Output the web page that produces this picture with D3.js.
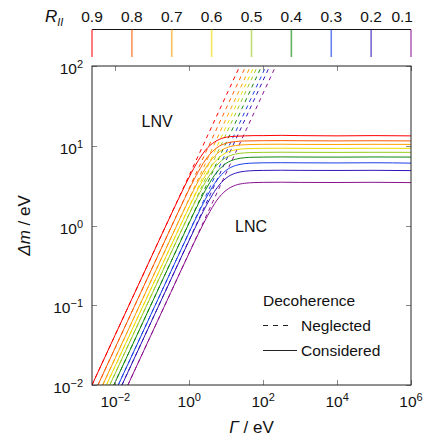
<!DOCTYPE html>
<html><head><meta charset="utf-8">
<script src="https://cdn.jsdelivr.net/npm/d3@7"></script>
<style>
body{margin:0;background:#fff}
text{font-family:"Liberation Sans",Arial,sans-serif;fill:#111}
</style>
</head><body>
<svg id="c" width="425" height="440"></svg>
<script>
// ---- data ----
const rLabels = ["0.9","0.8","0.7","0.6","0.5","0.4","0.3","0.2","0.1"];
const colors = ["#ff0000","#ff5a00","#ffa000","#eedd00","#99cc22","#118811","#1a3fe8","#3214b8","#8a1190"];
const xTickValues = [1e-2, 1e0, 1e2, 1e4, 1e6];
const xTickExp = ["−2","0","2","4","6"];
const yTickValues = [1e-2, 1e-1, 1e0, 1e1, 1e2];
const yTickExp = ["−2","−1","0","1","2"];

// Gamma grid (eV) for the "Considered" curves
const gammaGrid = [0.001, 0.1, 0.3162, 0.5623, 1, 1.778, 3.162, 5.623, 10, 17.78, 31.62, 56.23, 100, 316.2, 1000, 1e4, 1e5, 1e6];
// Delta m (eV), decoherence considered, one array per R_II
const dm09 = [0.00427, 0.427, 1.343, 2.36, 4.06, 6.58, 9.48, 11.6, 12.8, 13.15, 13.3, 13.4, 13.4, 13.5, 13.4, 13.3, 13.4, 13.3];
const dm08 = [0.00295, 0.295, 0.929, 1.643, 2.858, 4.77, 7.26, 9.46, 10.76, 11.28, 11.48, 11.53, 11.56, 11.6, 11.55, 11.5, 11.55, 11.5];
const dm07 = [0.00219, 0.219, 0.690, 1.222, 2.141, 3.64, 5.75, 7.93, 9.40, 10.06, 10.30, 10.38, 10.42, 10.45, 10.4, 10.38, 10.42, 10.4];
const dm06 = [0.00174, 0.174, 0.548, 0.972, 1.708, 2.93, 4.72, 6.71, 8.18, 8.89, 9.16, 9.25, 9.29, 9.32, 9.28, 9.26, 9.3, 9.27];
const dm05 = [0.00141, 0.141, 0.446, 0.791, 1.392, 2.40, 3.92, 5.72, 7.13, 7.86, 8.14, 8.23, 8.26, 8.3, 8.27, 8.25, 8.28, 8.26];
const dm04 = [0.001096, 0.1096, 0.3463, 0.614, 1.084, 1.881, 3.12, 4.68, 6.02, 6.77, 7.08, 7.18, 7.21, 7.24, 7.22, 7.2, 7.23, 7.21];
const dm03 = [0.000832, 0.0832, 0.2628, 0.4661, 0.8241, 1.437, 2.413, 3.71, 4.92, 5.65, 5.96, 6.07, 6.11, 6.13, 6.11, 6.09, 6.12, 6.05];
const dm02 = [0.000661, 0.0661, 0.2087, 0.3704, 0.6546, 1.1425, 1.920, 2.959, 3.937, 4.532, 4.786, 4.878, 4.909, 4.93, 4.91, 4.9, 4.92, 4.88];
const dm01 = [0.000457, 0.0457, 0.1444, 0.2564, 0.4531, 0.791, 1.334, 2.080, 2.766, 3.196, 3.384, 3.451, 3.474, 3.49, 3.47, 3.46, 3.48, 3.45];
const considered = [dm09, dm08, dm07, dm06, dm05, dm04, dm03, dm02, dm01];
// Decoherence neglected: straight lines, Gamma where they cross dm = 0.01 and dm = 100
const negGammaLow  = [0.00234, 0.00339, 0.00457, 0.00575, 0.00708, 0.00912, 0.0120, 0.0151, 0.0219];
const negGammaHigh = [23.4, 33.9, 45.7, 57.5, 70.8, 91.2, 120, 151, 219];
const negDm = [0.01, 100];

// ---- layout ----
const svg = d3.select("#c");
const L = 92, R = 411, T = 66, B = 385;
const x = d3.scaleLog().domain([0.00234, 1e6]).range([L, R]);
const y = d3.scaleLog().domain([0.01, 100]).range([B, T]);

svg.append("defs").append("clipPath").attr("id","clip")
  .append("rect").attr("x",L).attr("y",T).attr("width",R-L).attr("height",B-T);

const plot = svg.append("g").attr("clip-path","url(#clip)");

// neglected (dashed)
negGammaLow.forEach((g0,i)=>{
  const pts = [[g0, negDm[0]],[negGammaHigh[i], negDm[1]]];
  plot.append("path")
    .attr("d", d3.line().x(d=>x(d[0])).y(d=>y(d[1]))(pts))
    .attr("fill","none").attr("stroke",colors[i]).attr("stroke-width",1)
    .attr("stroke-dasharray","4,4");
});
// considered (solid)
considered.forEach((arr,i)=>{
  const pts = gammaGrid.map((g,j)=>[g, arr[j]]);
  plot.append("path")
    .attr("d", d3.line().x(d=>x(d[0])).y(d=>y(d[1])).curve(d3.curveMonotoneX)(pts))
    .attr("fill","none").attr("stroke",colors[i]).attr("stroke-width",1);
});

// ticks (inward, all four sides)
const tickCol = "#888", tl = 5;
const tg = svg.append("g").attr("stroke",tickCol).attr("stroke-width",1);
xTickValues.forEach(v=>{
  const px = Math.round(x(v))+0.5;
  tg.append("line").attr("x1",px).attr("x2",px).attr("y1",B).attr("y2",B-tl);
  tg.append("line").attr("x1",px).attr("x2",px).attr("y1",T).attr("y2",T+tl);
});
yTickValues.forEach(v=>{
  const py = Math.round(y(v))+0.5;
  tg.append("line").attr("x1",L).attr("x2",L+tl).attr("y1",py).attr("y2",py);
  tg.append("line").attr("x1",R).attr("x2",R-tl).attr("y1",py).attr("y2",py);
});

// frame
svg.append("rect").attr("x",L).attr("y",T).attr("width",R-L).attr("height",B-T)
  .attr("fill","none").attr("stroke","#222").attr("stroke-width",1);

// tick labels
const fs = 15.5, sfs = 11;
xTickValues.forEach((v,i)=>{
  const t = svg.append("text").attr("x",x(v)).attr("y",B+22).attr("text-anchor","middle").attr("font-size",fs);
  t.append("tspan").text("10");
  t.append("tspan").attr("font-size",sfs).attr("dy",-6).text(xTickExp[i]);
});
yTickValues.forEach((v,i)=>{
  const t = svg.append("text").attr("x",L-9).attr("y",y(v)+8).attr("text-anchor","end").attr("font-size",fs);
  t.append("tspan").text("10");
  t.append("tspan").attr("font-size",sfs).attr("dy",-6).text(yTickExp[i]);
});

// axis titles
const xt = svg.append("text").attr("x",(L+R)/2).attr("y",433).attr("text-anchor","middle").attr("font-size",17);
xt.append("tspan").attr("font-style","italic").text("Γ");
xt.append("tspan").text(" / eV");
const yt = svg.append("text").attr("transform",`translate(30,${(T+B)/2}) rotate(-90)`).attr("text-anchor","middle").attr("font-size",17);
yt.append("tspan").attr("font-style","italic").text("Δm");
yt.append("tspan").text(" / eV");

// region labels
svg.append("text").attr("x",141.5).attr("y",127).attr("font-size",16).text("LNV");
svg.append("text").attr("x",235).attr("y",232).attr("font-size",16).text("LNC");

// legend
const lg = svg.append("g");
lg.append("text").attr("x",263).attr("y",306).attr("font-size",fs).text("Decoherence");
lg.append("line").attr("x1",263).attr("x2",292).attr("y1",325.5).attr("y2",325.5)
  .attr("stroke","#222").attr("stroke-width",1).attr("stroke-dasharray","5,5");
lg.append("text").attr("x",301).attr("y",331).attr("font-size",fs).text("Neglected");
lg.append("line").attr("x1",263).attr("x2",297).attr("y1",350.5).attr("y2",350.5)
  .attr("stroke","#222").attr("stroke-width",1);
lg.append("text").attr("x",301).attr("y",356).attr("font-size",fs).text("Considered");

// colour bar
const cb = d3.scalePoint().domain(rLabels).range([L, R]);
svg.append("line").attr("x1",L).attr("x2",R).attr("y1",29.5).attr("y2",29.5).attr("stroke","#111").attr("stroke-width",1);
rLabels.forEach((r,i)=>{
  svg.append("line").attr("x1",cb(r)).attr("x2",cb(r)).attr("y1",29.5).attr("y2",57)
    .attr("stroke",colors[i]).attr("stroke-width",1.6).attr("stroke-opacity",0.65);
  const last = i === rLabels.length-1;
  svg.append("text").attr("x", last ? cb(r)+2 : cb(r)).attr("y",22)
    .attr("text-anchor", last ? "end" : "middle").attr("font-size",fs).text(r);
});
const rt = svg.append("text").attr("x",45).attr("y",22).attr("font-size",17).attr("font-style","italic");
rt.append("tspan").text("R");
rt.append("tspan").attr("font-size",11).attr("dy",4).text("II");
</script>
</body></html>
